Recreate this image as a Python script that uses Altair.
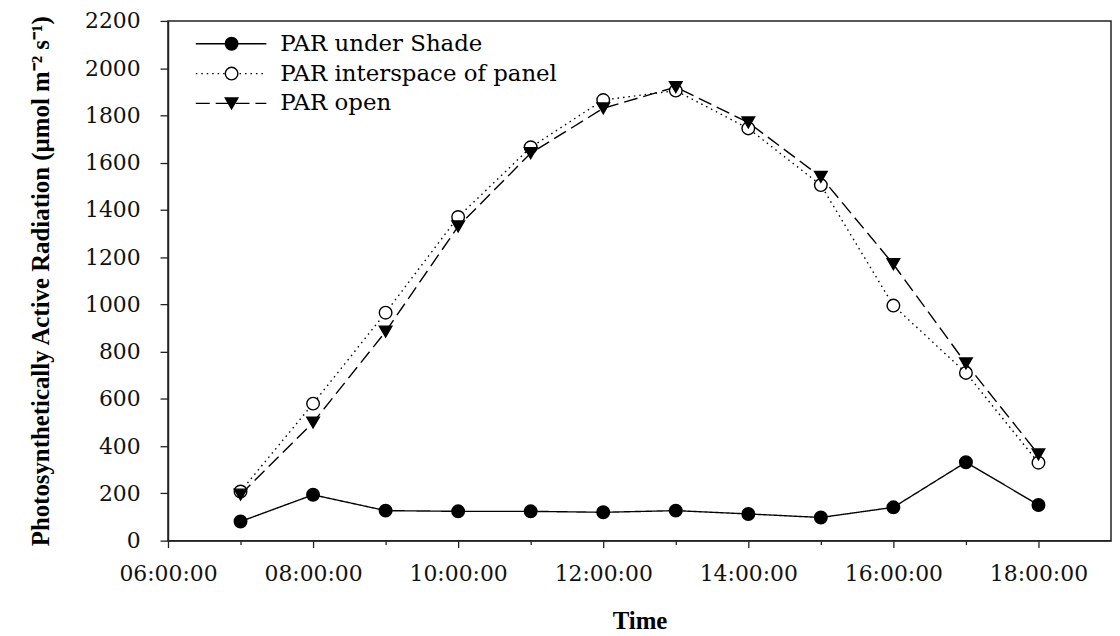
import altair as alt
import pandas as pd

hours = [7, 8, 9, 10, 11, 12, 13, 14, 15, 16, 17, 18]
par_shade = [81, 194, 127, 124, 124, 120, 127, 113, 98, 141, 332, 151]
par_interspace = [208, 580, 965, 1370, 1665, 1865, 1905, 1745, 1505, 995, 710, 330]
par_open = [195, 500, 885, 1330, 1640, 1830, 1920, 1770, 1540, 1170, 750, 365]
series_names = ["PAR under Shade", "PAR interspace of panel", "PAR open"]
x_ticks = list(range(6, 19))
y_ticks = list(range(0, 2201, 200))

rows = []
for name, vals in zip(series_names, [par_shade, par_interspace, par_open]):
    for h, v in zip(hours, vals):
        rows.append({"hour": h, "par": v, "series": name})
df = pd.DataFrame(rows)

FONT = "DejaVu Serif"
TFONT = "Liberation Serif"
W, H = 949, 523
dashes = [[1, 0], [1.5, 4], [14, 6]]
shapes = ["circle", "circle", "triangle-down"]
fills = ["black", "white", "black"]

x_enc = alt.X(
    "hour:Q",
    scale=alt.Scale(domain=[6, 19], nice=False, zero=False),
    axis=alt.Axis(
        values=x_ticks,
        labelExpr="datum.value % 2 == 0 ? (datum.value < 10 ? '0' : '') + datum.value + ':00:00' : ''",
        tickSize={"expr": "datum.value % 2 == 0 ? 7 : 4"},
        title="Time",
        labelFlush=False,
        labelOverlap=False,
        labelPadding=16,
        titlePadding=24,
        grid=False,
    ),
)
y_enc = alt.Y(
    "par:Q",
    scale=alt.Scale(domain=[0, 2200], nice=False),
    axis=alt.Axis(
        values=y_ticks,
        format="d",
        title="Photosynthetically Active Radiation (µmol m⁻² s⁻¹)",
        tickSize=8,
        labelPadding=20,
        titlePadding=31,
        labelFlush=False,
        grid=False,
    ),
)

base = alt.Chart(df)
lines = base.mark_line(color="black", strokeWidth=1.4).encode(
    x=x_enc,
    y=y_enc,
    strokeDash=alt.StrokeDash("series:N", scale=alt.Scale(domain=series_names, range=dashes), legend=None),
    detail="series:N",
)
points = base.mark_point(filled=False, stroke="black", strokeWidth=1.4, opacity=1).encode(
    x="hour:Q",
    y="par:Q",
    shape=alt.Shape("series:N", scale=alt.Scale(domain=series_names, range=shapes), legend=None),
    fill=alt.Fill("series:N", scale=alt.Scale(domain=series_names, range=fills), legend=None),
    size=alt.value(160),
)

legend_layers = []
row_y = [23, 53, 83]
for i, name in enumerate(series_names):
    ldf = pd.DataFrame({"series": [name]})
    lc = alt.Chart(ldf)
    legend_layers.append(
        lc.mark_rule(color="black", strokeWidth=1.4, strokeDash=dashes[i]).encode(
            x=alt.value(28), x2=alt.value(99), y=alt.value(row_y[i])
        )
    )
    legend_layers.append(
        lc.mark_point(shape=shapes[i], fill=fills[i], stroke="black", strokeWidth=1.4, opacity=1, size=160).encode(
            x=alt.value(64), y=alt.value(row_y[i])
        )
    )
    legend_layers.append(
        lc.mark_text(align="left", baseline="middle", font=FONT, fontSize=23, color="black").encode(
            x=alt.value(113), y=alt.value(row_y[i]), text="series:N"
        )
    )

chart = (
    alt.layer(lines, points, *legend_layers)
    .properties(
        width=W,
        height=H,
        padding={"left": 161, "top": 11, "right": 1, "bottom": 100},
        autosize=alt.AutoSizeParams(type="none"),
        background="white",
    )
    .configure_view(stroke="#222", strokeWidth=1.5)
    .configure_axis(
        domainColor="#222",
        domainWidth=1.5,
        tickColor="#222",
        tickWidth=1.3,
        labelFont=FONT,
        labelFontSize=22,
        labelColor="#111",
        titleFont=TFONT,
        titleFontSize=25,
        titleFontWeight="bold",
        titleColor="black",
    )
)

chart.save("out.html", embed_options={"renderer": "svg", "actions": False})
